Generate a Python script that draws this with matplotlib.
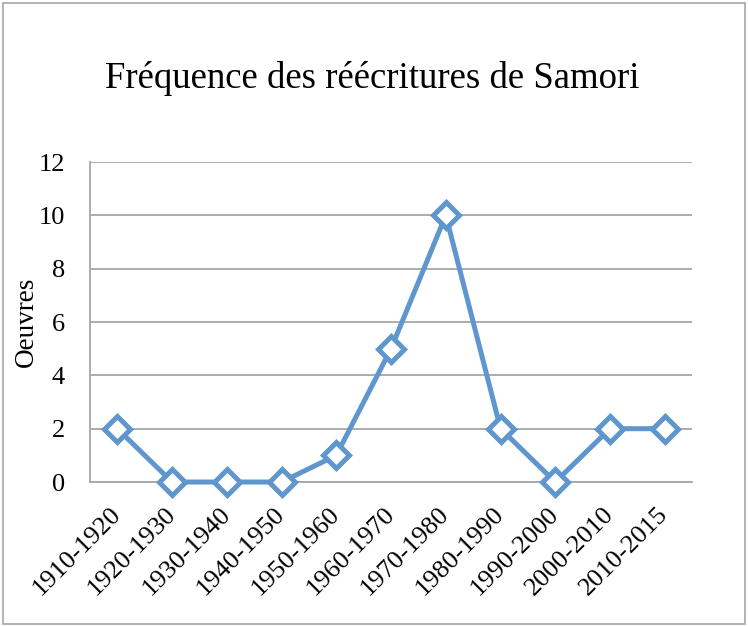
import matplotlib.pyplot as plt
from matplotlib.patches import Rectangle

plt.rcParams['font.family'] = ['Liberation Serif', 'DejaVu Serif']

periodes = ['1910-1920', '1920-1930', '1930-1940', '1940-1950', '1950-1960',
            '1960-1970', '1970-1980', '1980-1990', '1990-2000', '2000-2010',
            '2010-2015']
oeuvres = [2, 0, 0, 0, 1, 5, 10, 2, 0, 2, 2]
yticks = [0, 2, 4, 6, 8, 10, 12]

bleu = '#6096CE'
gris = '#A6A6A6'

fig = plt.figure(figsize=(7.48, 6.26), dpi=100)
fig.patches.append(Rectangle((0.004, 0.003), 0.992, 0.993, transform=fig.transFigure,
                             fill=False, edgecolor=gris, linewidth=1.2))
ax = fig.add_axes([0.1203, 0.230, 0.805, 0.5112])

x = range(len(periodes))
ax.plot(x, oeuvres, color=bleu, linewidth=3.6, marker='D', markersize=13,
        markerfacecolor='white', markeredgecolor=bleu, markeredgewidth=3.6,
        clip_on=False, zorder=3)

ax.set_xlim(-0.5, len(periodes) - 0.5)
ax.set_ylim(0, 12)
ax.set_yticks(yticks)
ax.set_yticklabels([str(v) for v in yticks], fontsize=19)
ax.set_xticks(list(x))
ax.set_xticklabels(periodes, fontsize=19, rotation=45, ha='right',
                   va='center', rotation_mode='anchor')
ax.tick_params(length=0)
ax.tick_params(axis='y', pad=18)
ax.tick_params(axis='x', pad=21)
ax.grid(axis='y', color=gris, linewidth=1.3)
ax.set_axisbelow(True)
for s in ['top', 'right']:
    ax.spines[s].set_visible(False)
for s in ['left', 'bottom']:
    ax.spines[s].set_color(gris)
    ax.spines[s].set_linewidth(1.3)

ax.set_ylabel('Oeuvres', fontsize=19.5, labelpad=0)
fig.text(0.497, 0.874, 'Fréquence des réécritures de Samori', fontsize=26.5,
         ha='center', va='center')

fig.savefig('out.png', dpi=100)
